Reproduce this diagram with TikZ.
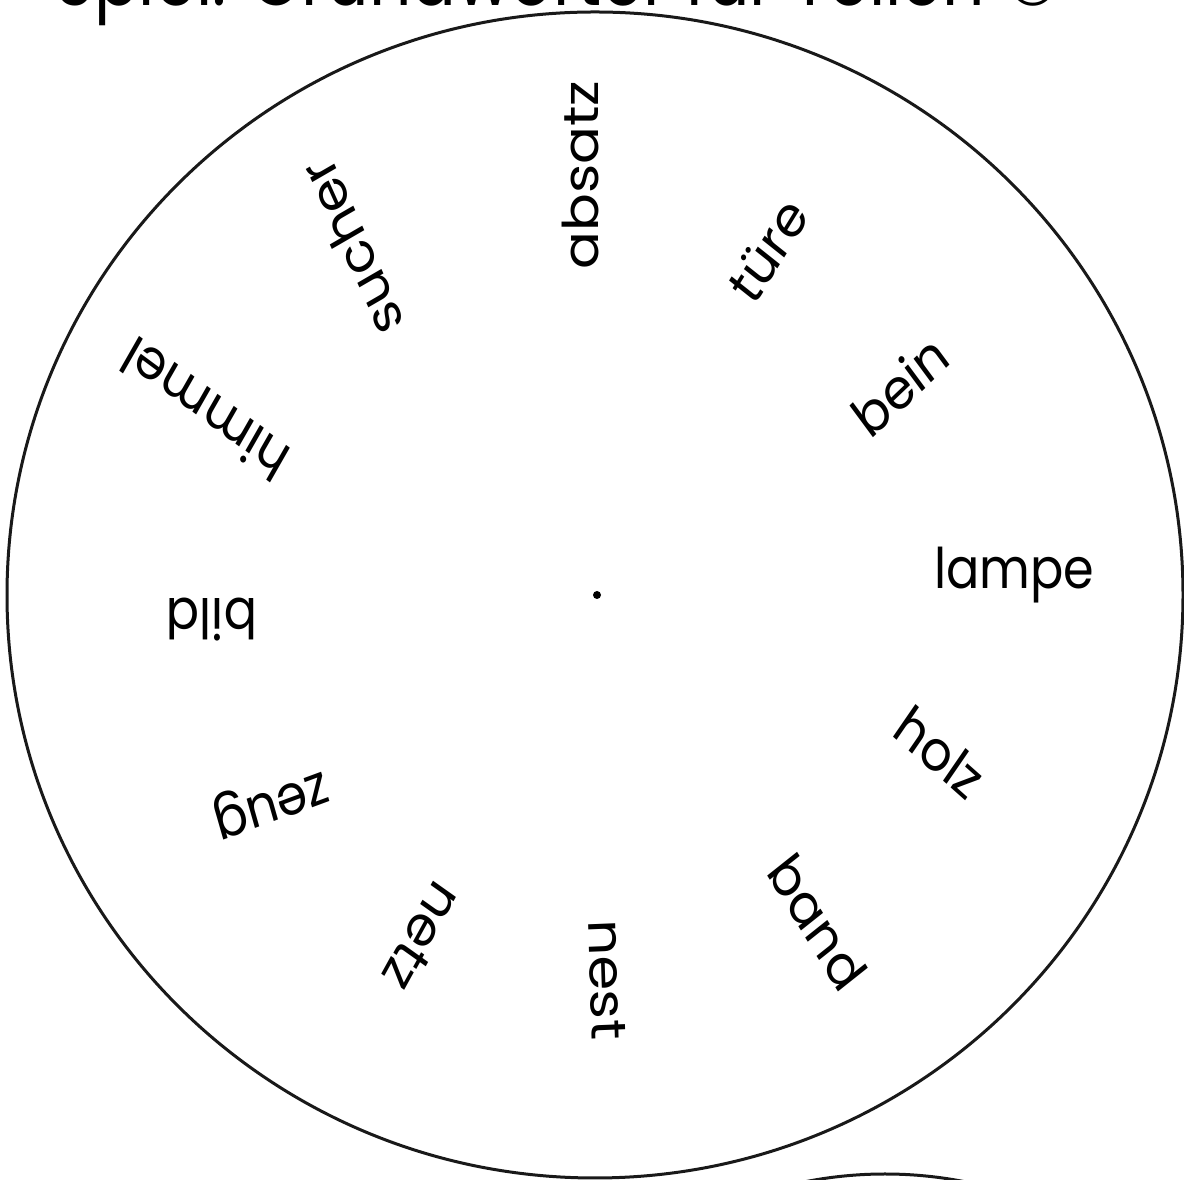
\documentclass[tikz,border=0pt]{standalone}
\usepackage{fontspec}
\setmainfont{Poppins}
\newfontfamily\symfont{DejaVu Sans}
\usetikzlibrary{calc}
\begin{document}
\begin{tikzpicture}[x=1pt,y=1pt,
  word/.style={font=\fontsize{56}{56}\selectfont, inner sep=0pt, anchor=center, xscale=0.88},
  rim/.style={line width=3pt, draw=black!90}]
\useasboundingbox (0,0) rectangle (1184,1180);
\clip (0,0) rectangle (1184,1180);
\coordinate (c) at (595,585);
% title, cut off at the top edge
\node[anchor=base west, inner sep=0pt, font=\fontsize{78}{78}\selectfont, xscale=0.85] (title) at (55,1174) {Spiel: Grundwörter für Teilen {\symfont ①}};
% main disc
\draw[rim] (c) ellipse [x radius=588, y radius=583];
\fill (597,585) circle (4);
% next disc below
\draw[rim] (885,-405) circle (411);
% words
\node[word, rotate=90]   (w1)  at ($(c)+(92:420)$) {absatz};
\node[word, rotate=55]   (w2)  at ($(c)+(63.4:386)$) {türe};
\node[word, rotate=40]   (w3)  at ($(c)+(34.5:370)$) {bein};
\node[word, rotate=0]    (w4)  at ($(c)+(2.7:420)$) {lampe};
\node[word, rotate=-38]  (w5)  at ($(c)+(-24.5:379)$) {holz};
\node[word, rotate=-55]  (w6)  at ($(c)+(-55.7:396)$) {band};
\node[word, rotate=-88]  (w7)  at ($(c)+(-88.2:385)$) {nest};
\node[word, rotate=-122] (w8)  at ($(c)+(-116.8:383)$) {netz};
\node[word, rotate=-162] (w9)  at ($(c)+(-147.8:384)$) {zeug};
\node[word, rotate=180]  (w10) at ($(c)+(-176.3:384)$) {bild};
\node[word, rotate=147]  (w11) at ($(c)+(154.6:432)$) {himmel};
\node[word, rotate=117]  (w12) at ($(c)+(125:424)$) {sucher};
\end{tikzpicture}
\end{document}
